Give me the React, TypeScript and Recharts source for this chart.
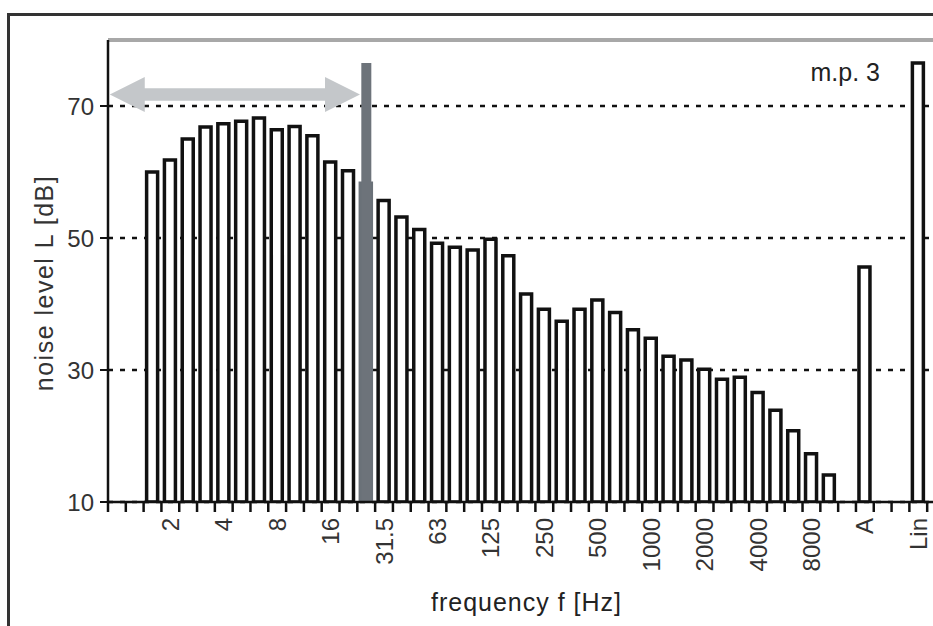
import React from 'react';
import {
  BarChart,
  Bar,
  XAxis,
  YAxis,
  CartesianGrid,
  ReferenceLine,
  ReferenceArea,
  ReferenceDot,
  Cell,
} from 'recharts';

// 1/3-octave band centre frequencies (Hz), plus A- and Lin-weighted totals
const freqBands = [
  '1', '1.25', '1.6', '2', '2.5', '3.15', '4', '5', '6.3', '8', '10', '12.5', '16', '20', '25',
  '31.5', '40', '50', '63', '80', '100', '125', '160', '200', '250', '315', '400', '500', '630',
  '800', '1000', '1250', '1600', '2000', '2500', '3150', '4000', '5000', '6300', '8000', '10000',
  '', 'A', '', '', 'Lin', '',
];

// noise level L [dB] per band
const noiseLevels = [
  null, null, 60.0, 61.8, 65.0, 66.8, 67.3, 67.7, 68.2, 66.4, 66.9, 65.5, 61.5, 60.2, 58.3,
  55.7, 53.2, 51.3, 49.2, 48.6, 48.2, 49.8, 47.3, 41.5, 39.2, 37.4, 39.2, 40.6, 38.7,
  36.1, 34.8, 32.1, 31.5, 30.1, 28.6, 28.9, 26.6, 23.9, 20.8, 17.3, 14.1,
  null, 45.6, null, null, 76.5, null,
];

// vertical marker at the infrasound limit band
const markerBand = '25';
const markerLevel = 76.5;

// tick labels actually printed on the frequency axis
const shownLabels = ['2', '4', '8', '16', '31.5', '63', '125', '250', '500', '1000', '2000', '4000', '8000', 'A', 'Lin'];

const yTicks = [10, 30, 50, 70];
const yDomain = [10, 80];

// annotation positions (band units / dB)
const arrowSpan = { x1: 0.1, x2: 14.15, y1: 69.1, y2: 74.4 };
const mpNote = { text: 'm.p. 3', x: 43.35, y: 75.15 };

const FONT = "'Liberation Sans', Arial, Helvetica, sans-serif";
const nBands = freqBands.length;

const rows = freqBands.map((band, i) => ({
  x: i + 0.5,
  band,
  level: noiseLevels[i],
  marker: band === markerBand ? markerLevel : null,
}));

const boundaryTicks = Array.from({ length: nBands + 1 }, (_, i) => i);
const labelTicks = shownLabels.map((l) => freqBands.indexOf(l) + 0.5);
const bottomTicks = [...boundaryTicks, ...labelTicks].sort((a, b) => a - b);

function BottomTick(props: any) {
  const { x, y, payload } = props;
  const v = payload.value;
  if (Number.isInteger(v)) {
    return <line x1={x} x2={x} y1={y - 1} y2={y + 10} stroke="#111" strokeWidth={2.5} />;
  }
  const band = freqBands[Math.floor(v)];
  return (
    <text
      x={0}
      y={0}
      transform={`translate(${x},${y + 16}) rotate(-90)`}
      textAnchor="end"
      dominantBaseline="central"
      fontSize={24}
      fill="#333"
      fontFamily={FONT}
    >
      {band}
    </text>
  );
}

function XTitle(props: any) {
  const vb = props.viewBox;
  return (
    <text
      x={vb.x + vb.width / 2}
      y={vb.y + vb.height - 15}
      textAnchor="middle"
      fontSize={25}
      letterSpacing={1}
      fill="#222"
      fontFamily={FONT}
    >
      frequency f [Hz]
    </text>
  );
}

function YTitle(props: any) {
  const vb = props.viewBox;
  return (
    <text
      x={0}
      y={0}
      transform={`translate(${vb.x + 44},${vb.y + vb.height / 2 + 12}) rotate(-90)`}
      textAnchor="middle"
      dominantBaseline="central"
      fontSize={25}
      letterSpacing={1.5}
      fill="#333"
      fontFamily={FONT}
    >
      noise level L [dB]
    </text>
  );
}

function MpLabel(props: any) {
  const vb = props.viewBox;
  return (
    <text
      x={vb.x}
      y={vb.y}
      textAnchor="end"
      dominantBaseline="central"
      fontSize={25}
      fill="#222"
      fontFamily={FONT}
    >
      {mpNote.text}
    </text>
  );
}

function ArrowShape(props: any) {
  const { x, y, width, height, fill } = props;
  const cy = y + height / 2;
  const st = height * 0.18;
  const hl = height;
  const pts = [
    [x, cy],
    [x + hl, y],
    [x + hl, cy - st],
    [x + width - hl, cy - st],
    [x + width - hl, y],
    [x + width, cy],
    [x + width - hl, y + height],
    [x + width - hl, cy + st],
    [x + hl, cy + st],
    [x + hl, y + height],
  ]
    .map((p) => p.join(','))
    .join(' ');
  return <polygon points={pts} fill={fill} />;
}

export default function App() {
  return (
    <div
      style={{
        position: 'absolute',
        left: 0,
        top: 0,
        width: 933,
        height: 626,
        overflow: 'hidden',
        background: '#fff',
      }}
    >
      <div
        style={{
          position: 'absolute',
          left: 7,
          top: 13,
          width: 1100,
          height: 800,
          border: '3px solid #333',
          boxSizing: 'border-box',
        }}
      />
      <div style={{ position: 'absolute', left: 0, top: 0 }}>
        <BarChart
          width={962}
          height={626}
          data={rows}
          margin={{ top: 40, right: 17, bottom: 0, left: 0 }}
        >
          <CartesianGrid
            xAxisId="f"
            vertical={false}
            stroke="#111"
            strokeWidth={2.5}
            strokeDasharray="5 7"
          />
          <XAxis
            xAxisId="f"
            dataKey="x"
            type="number"
            domain={[0, nBands]}
            ticks={boundaryTicks}
            height={0}
            hide
          />
          <XAxis
            xAxisId="m"
            dataKey="x"
            type="number"
            domain={[0, nBands]}
            ticks={boundaryTicks}
            height={0}
            hide
          />
          <XAxis
            xAxisId="t"
            dataKey="x"
            type="number"
            domain={[0, nBands]}
            ticks={bottomTicks}
            interval={0}
            tickLine={false}
            tickSize={0}
            tickMargin={0}
            tick={BottomTick}
            height={124}
            axisLine={{ stroke: '#111', strokeWidth: 2.5 }}
            label={{ content: XTitle }}
          />
          <YAxis
            domain={yDomain}
            ticks={yTicks}
            type="number"
            width={108}
            allowDataOverflow
            axisLine={{ stroke: '#111', strokeWidth: 2.5 }}
            tickLine={{ stroke: '#111', strokeWidth: 2 }}
            tickSize={8}
            tickMargin={6}
            tick={{ fontSize: 24, fill: '#333', fontFamily: FONT }}
            label={{ content: YTitle }}
          />
          <ReferenceLine xAxisId="f" y={80} stroke="#a8a8a8" strokeWidth={4} />
          <ReferenceArea
            xAxisId="f"
            x1={arrowSpan.x1}
            x2={arrowSpan.x2}
            y1={arrowSpan.y1}
            y2={arrowSpan.y2}
            fill="#c4c7ca"
            fillOpacity={1}
            shape={ArrowShape}
          />
          <Bar
            xAxisId="f"
            dataKey="level"
            barSize={11}
            fill="#fff"
            stroke="#111"
            strokeWidth={3.5}
            isAnimationActive={false}
          >
            {rows.map((r, i) => (
              <Cell
                key={i}
                fill={r.band === markerBand ? '#8a958f' : '#fff'}
                stroke={r.band === markerBand ? '#6a7178' : '#111'}
              />
            ))}
          </Bar>
          <Bar xAxisId="m" dataKey="marker" barSize={10} fill="#6d737a" isAnimationActive={false} />
          <ReferenceDot
            xAxisId="f"
            x={mpNote.x}
            y={mpNote.y}
            r={0}
            fill="none"
            stroke="none"
            label={{ content: MpLabel }}
          />
        </BarChart>
      </div>
    </div>
  );
}
